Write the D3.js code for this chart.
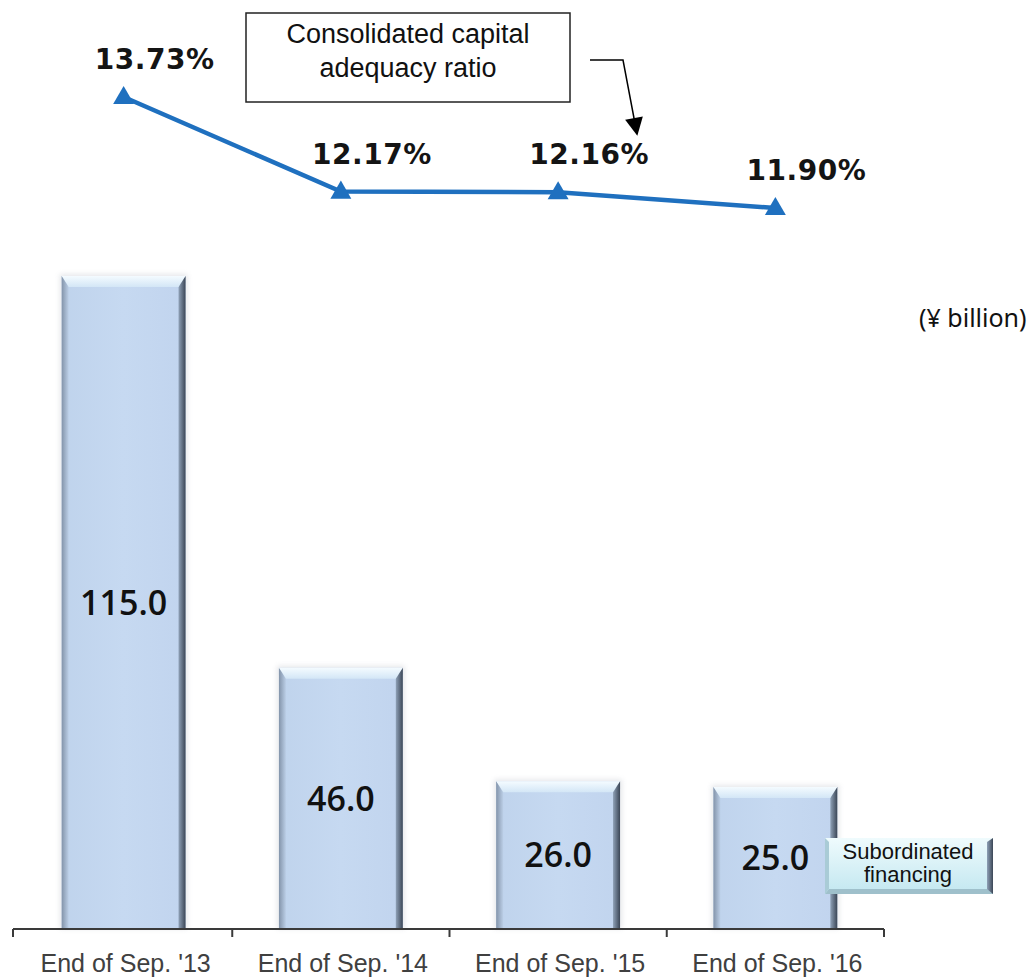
<!DOCTYPE html>
<html>
<head>
<meta charset="utf-8">
<script src="https://cdn.jsdelivr.net/npm/d3@7"></script>
<style>
  html, body { margin: 0; padding: 0; background: #fff; }
  svg { display: block; }
</style>
</head>
<body>
<svg id="chart" width="1036" height="977"></svg>
<script>
// Period labels along the category axis
const categories = ["End of Sep. '13", "End of Sep. '14", "End of Sep. '15", "End of Sep. '16"];
// Subordinated financing outstanding (¥ billion)
const financing = [115.0, 46.0, 26.0, 25.0];
// Consolidated capital adequacy ratio (%)
const capitalRatio = [13.73, 12.17, 12.16, 11.90];

const svg = d3.select("#chart");
const defs = svg.append("defs");

// ---- scales ----
const x = d3.scaleBand().domain(categories).range([15, 884]).paddingInner(0.43).paddingOuter(0.215);
const baseY = 929;
const y = d3.scaleLinear().domain([0, 115]).range([baseY, 276]);
const yr = d3.scaleLinear().domain([11.90, 13.73]).range([208, 97]);

// ---- gradients for the bevelled bars ----
function linGrad(id, x1, y1, x2, y2, stops) {
  const g = defs.append("linearGradient").attr("id", id)
    .attr("x1", x1).attr("y1", y1).attr("x2", x2).attr("y2", y2);
  stops.forEach(([o, c]) => g.append("stop").attr("offset", o).attr("stop-color", c));
}
linGrad("face", 0, 0, 1, 0, [[0, "#bfd3ec"], [0.5, "#c6d9f1"], [1, "#c1d4ee"]]);
linGrad("topBevel", 0, 0, 0, 1, [[0, "#f4fbff"], [1, "#d3e6f6"]]);
linGrad("rightBevel", 0, 0, 1, 0, [[0, "#8fa1b7"], [1, "#3b4656"]]);
linGrad("leftBevel", 0, 0, 1, 0, [[0, "#8394aa"], [1, "#bccfe7"]]);
linGrad("tagFace", 0, 0, 0, 1, [[0, "#effbfd"], [1, "#c2e7f0"]]);

const shadow = defs.append("filter").attr("id", "soft").attr("x", "-10%").attr("y", "-10%").attr("width", "120%").attr("height", "120%");
shadow.append("feGaussianBlur").attr("stdDeviation", 2.5);

const markerDef = defs.append("marker").attr("id", "arrow")
  .attr("viewBox", "0 0 10 10").attr("refX", 9).attr("refY", 5)
  .attr("orient", "auto")
  .attr("markerUnits", "userSpaceOnUse")
  .attr("markerWidth", 20).attr("markerHeight", 18);
markerDef.append("path").attr("d", "M0,0 L10,5 L0,10 Z").attr("fill", "#000");

// ---- bars ----
const bv = 7; // bevel width
const w = x.bandwidth();
const bars = svg.append("g").selectAll("g").data(financing).join("g")
  .attr("transform", (d, i) => `translate(${x(categories[i])},${y(d)})`);

bars.append("rect") // soft halo
  .attr("x", -2).attr("y", -2)
  .attr("width", w + 4)
  .attr("height", d => baseY - y(d) + 2)
  .attr("fill", "#c9ccd3").attr("opacity", 0.45).attr("filter", "url(#soft)");

bars.append("rect")
  .attr("width", w)
  .attr("height", d => baseY - y(d))
  .attr("fill", "url(#face)");

bars.append("path").attr("fill", "url(#leftBevel)")
  .attr("d", d => { const h = baseY - y(d); return `M0,0 L${bv},${bv} L${bv},${h} L0,${h} Z`; });
bars.append("path").attr("fill", "url(#rightBevel)")
  .attr("d", d => { const h = baseY - y(d); return `M${w},0 L${w},${h} L${w - bv},${h} L${w - bv},${bv} Z`; });
bars.append("path").attr("fill", "url(#topBevel)")
  .attr("d", `M0,0 L${w},0 L${w - bv},${bv + 4} L${bv},${bv + 4} Z`);

// value labels centred inside each bar
svg.append("g").selectAll("text").data(financing).join("text")
  .attr("x", (d, i) => x(categories[i]) + w / 2)
  .attr("y", d => (y(d) + baseY) / 2)
  .attr("dy", "0.36em")
  .attr("text-anchor", "middle")
  .attr("font-family", "'Open Sans', 'Noto Sans', sans-serif")
  .attr("font-weight", 600)
  .attr("font-size", 34)
  .attr("fill", "#111")
  .text(d => d.toFixed(1));

// ---- category axis ----
const axis = svg.append("g");
axis.append("line").attr("x1", 13).attr("x2", 884).attr("y1", baseY).attr("y2", baseY)
  .attr("stroke", "#3a3a3a").attr("stroke-width", 2);
const boundaries = categories.map(c => x(c) - x.step() * x.paddingInner() / 2);
boundaries.push(884);
boundaries[0] = 13;
axis.selectAll(".tick").data(boundaries).join("line")
  .attr("x1", d => d).attr("x2", d => d)
  .attr("y1", baseY).attr("y2", baseY + 8)
  .attr("stroke", "#3a3a3a").attr("stroke-width", 2);
axis.selectAll("text").data(categories).join("text")
  .attr("x", d => x(d) + w / 2 + 2)
  .attr("y", 972)
  .attr("text-anchor", "middle")
  .attr("font-family", "'Liberation Sans', Arial, sans-serif")
  .attr("font-size", 25)
  .attr("fill", "#404040")
  .text(d => d);

// ---- ratio line ----
const linePts = capitalRatio.map((v, i) => [x(categories[i]) + w / 2, yr(v)]);
svg.append("path")
  .attr("d", d3.line()(linePts))
  .attr("fill", "none")
  .attr("stroke", "#1f70bf")
  .attr("stroke-width", 4.5);
svg.append("g").selectAll("path").data(linePts).join("path")
  .attr("transform", d => `translate(${d[0]},${d[1] + 1})`)
  .attr("d", d3.symbol(d3.symbolTriangle, 190))
  .attr("fill", "#1f70bf");
svg.append("g").selectAll("text").data(capitalRatio).join("text")
  .attr("x", (d, i) => linePts[i][0] + 31)
  .attr("y", (d, i) => linePts[i][1] - 28)
  .attr("text-anchor", "middle")
  .attr("font-family", "'DejaVu Sans', sans-serif")
  .attr("font-weight", "bold")
  .attr("font-size", 28)
  .attr("letter-spacing", 0.5)
  .attr("fill", "#141414")
  .text(d => d.toFixed(2) + "%");

// ---- series caption box with pointer ----
const cap = svg.append("g");
cap.append("rect").attr("x", 246).attr("y", 13).attr("width", 324).attr("height", 89)
  .attr("fill", "#fff").attr("stroke", "#222").attr("stroke-width", 1.5);
cap.append("text").attr("text-anchor", "middle")
  .attr("font-family", "'Liberation Sans', Arial, sans-serif").attr("font-size", 27).attr("fill", "#111")
  .selectAll("tspan").data(["Consolidated capital", "adequacy ratio"]).join("tspan")
  .attr("x", 408).attr("y", (d, i) => i ? 77 : 43).text(d => d);
cap.append("path").attr("d", "M590,60 H623 L637,134")
  .attr("fill", "none").attr("stroke", "#000").attr("stroke-width", 1.5)
  .attr("marker-end", "url(#arrow)");

// ---- unit note ----
svg.append("text").attr("x", 919).attr("y", 327)
  .attr("font-family", "'Noto Sans', sans-serif").attr("font-size", 25).attr("fill", "#111")
  .text("(¥ billion)");

// ---- series tag next to the last bar ----
const tag = svg.append("g").attr("transform", "translate(825,838)");
tag.append("rect").attr("width", 168).attr("height", 56).attr("fill", "url(#tagFace)");
tag.append("path").attr("d", "M168,0 L168,56 L162,56 L162,4 Z").attr("fill", "url(#rightBevel)");
tag.append("path").attr("d", "M0,56 L168,56 L162,51 L4,51 Z").attr("fill", "#9fc0cb");
tag.append("path").attr("d", "M0,0 L4,4 L4,51 L0,56 Z").attr("fill", "#a9cbd6");
tag.append("text").attr("text-anchor", "middle")
  .attr("font-family", "'Liberation Sans', Arial, sans-serif").attr("font-size", 22).attr("fill", "#111")
  .selectAll("tspan").data(["Subordinated", "financing"]).join("tspan")
  .attr("x", 83).attr("y", (d, i) => i ? 44 : 21).text(d => d);
</script>
</body>
</html>
